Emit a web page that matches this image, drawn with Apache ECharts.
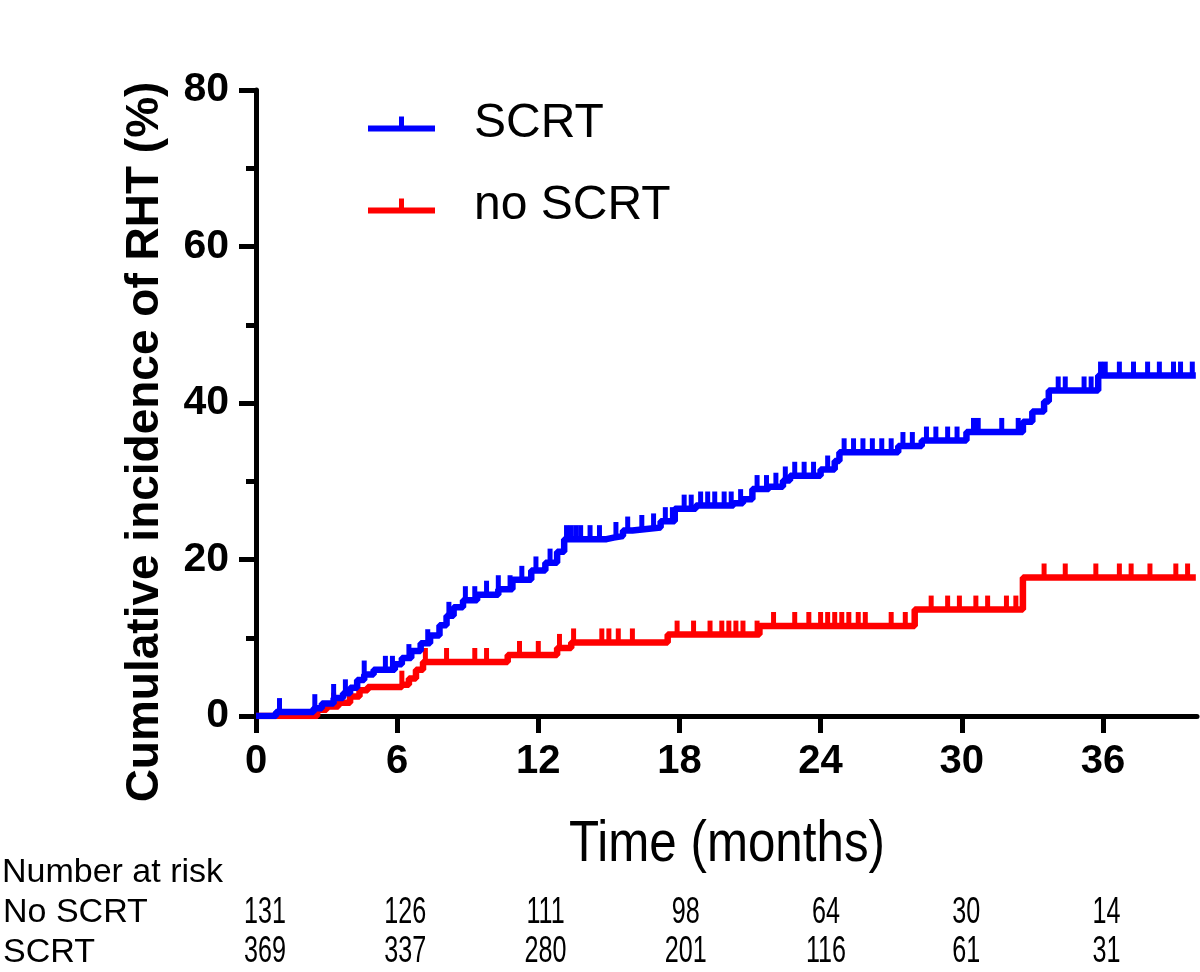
<!DOCTYPE html>
<html>
<head>
<meta charset="utf-8">
<script src="https://cdn.jsdelivr.net/npm/echarts@6/dist/echarts.min.js"></script>
<style>
html, body { margin: 0; padding: 0; background: #fff; }
#main { width: 1200px; height: 972px; }
</style>
</head>
<body>
<div id="main"></div>
<script>
// cumulative incidence steps [month, %]
var scrtSteps = [
	[0,0],[0.85,0.5],[2.45,1.0],[2.8,1.6],[3.3,2.3],[3.7,2.9],[4.0,3.6],[4.3,4.6],[4.6,5.3],[5.0,5.9],
	[5.9,6.6],[6.2,7.4],[6.6,8.3],[7.0,9.3],[7.4,10.3],[7.8,11.6],[8.1,12.8],[8.4,13.9],[8.8,14.8],[9.4,15.5],
	[10.3,16.2],[10.9,17.4],[11.7,18.6],[12.3,19.6],[12.8,21.0],[13.1,22.6],[14.9,22.8],[15.2,23.0],[15.6,23.7],[16.0,23.9],
	[16.6,24.1],[17.2,24.9],[17.8,26.5],[18.7,26.9],[20.3,27.2],[20.7,27.7],[21.1,29.0],[21.8,29.3],[22.4,30.1],[22.7,30.7],
	[24.0,31.5],[24.6,32.6],[24.8,33.7],[27.3,34.5],[28.3,35.2],[30.2,36.3],[32.6,37.6],[33.0,38.9],[33.5,40.2],[33.7,41.6],
	[35.8,43.5],[39.95,43.5]
];
var noScrtSteps = [
	[0,0],[2.6,0.8],[3.0,1.2],[3.5,1.7],[4.0,2.5],[4.4,3.3],[4.75,3.7],[6.2,4.0],[6.5,4.8],[6.8,5.9],
	[7.1,6.9],[10.7,7.8],[12.8,8.7],[13.4,9.4],[17.5,10.4],[21.4,11.5],[28.0,13.6],[32.6,17.7],[39.95,17.7]
];

// censoring times (months)
var scrtCensor = [1.0,2.5,3.3,3.8,4.6,5.5,5.8,6.5,7.3,8.2,8.9,9.3,9.8,10.3,10.8,11.3,11.9,12.5,13.2,13.4,
	13.6,13.8,14.2,14.6,15.3,15.8,16.4,16.9,17.4,17.7,18.2,18.5,18.9,19.2,19.5,19.9,20.2,20.6,21.3,21.7,
	22.1,22.5,22.9,23.3,23.7,24.3,25.0,25.4,25.8,26.2,26.6,27.0,27.5,27.9,28.5,28.9,29.4,29.8,30.5,30.7,
	31.7,32.4,34.1,34.4,35.2,35.5,35.9,36.1,36.7,37.3,37.9,38.4,39.0,39.3,39.8];
var noScrtCensor = [3.3,6.2,7.2,8.1,9.3,9.8,11.2,12.0,12.9,13.5,14.7,15.0,15.4,16.0,17.9,18.6,19.3,19.8,20.1,20.4,
	20.7,21.3,22.0,22.9,23.5,24.0,24.3,24.6,24.9,25.2,25.6,25.9,27.0,27.6,28.7,29.4,29.9,30.6,31.1,31.9,
	32.3,33.5,34.4,35.7,36.7,37.2,38.0,39.1,39.6];

var xTicks = [0,6,12,18,24,30,36];
var riskMonths = [0,6,12,18,24,30,36];
var riskRows = ['No SCRT', 'SCRT'];
var riskNoScrt = [131,126,111,98,64,30,14];
var riskScrt = [369,337,280,201,116,61,31];

var BLUE = '#0000ff', RED = '#ff0000';
var FONT = '"Liberation Sans", Arial, sans-serif';

// value of a step curve at time t
function valueAt(steps, t){
	var v = 0;
	for (var i = 0; i < steps.length; i++) {
		if (steps[i][0] <= t) { v = steps[i][1]; }
	}
	return v;
}
function censorPoints(steps, times){
	var out = [];
	for (var i = 0; i < times.length; i++) {
		out.push([times[i], valueAt(steps, times[i])]);
	}
	return out;
}

var riskData = [];
for (var i = 0; i < riskMonths.length; i++) {
	riskData.push([riskMonths[i], 0, riskNoScrt[i]]);
	riskData.push([riskMonths[i], 1, riskScrt[i]]);
}

var legendIcon = 'path://M0,9H67V15H0Z M31,0H36V9H31Z';

var chart = echarts.init(document.getElementById('main'));
var option = {
	animation: false,
	backgroundColor: '#fff',
	textStyle: { fontFamily: FONT },
	legend: {
		orient: 'vertical',
		left: 368,
		top: 100,
		itemWidth: 67,
		itemHeight: 15,
		itemGap: 34,
		padding: 0,
		textStyle: { fontSize: 48, color: '#000', fontFamily: FONT, padding: [0, 0, 0, 34] },
		data: [
			{ name: 'SCRT', icon: legendIcon, itemStyle: { color: BLUE } },
			{ name: 'no SCRT', icon: legendIcon, itemStyle: { color: RED } }
		]
	},
	grid: [
		{ left: 256, top: 90, right: 3, bottom: 256, containLabel: false },
		{ left: 262, top: 893, width: 965, height: 80, containLabel: false }
	],
	xAxis: [
		{
			type: 'value', gridIndex: 0, min: 0, max: 40, interval: 6,
			splitLine: { show: false },
			axisLine: { lineStyle: { color: '#000', width: 5 } },
			axisTick: { length: 17, lineStyle: { color: '#000', width: 5 }, customValues: xTicks },
			axisLabel: { margin: 26, fontSize: 40, fontWeight: 'bold', color: '#000', customValues: xTicks }
		},
		{
			type: 'value', gridIndex: 1, min: 0, max: 40, show: false
		}
	],
	yAxis: [
		{
			type: 'value', gridIndex: 0, min: 0, max: 80, interval: 20,
			splitLine: { show: false },
			axisLine: { show: true, lineStyle: { color: '#000', width: 5 } },
			axisTick: { show: true, length: 17, lineStyle: { color: '#000', width: 5 } },
			minorTick: { show: true, splitNumber: 2, length: 10, lineStyle: { color: '#000', width: 5 } },
			axisLabel: { margin: 27, fontSize: 41, fontWeight: 'bold', color: '#000' }
		},
		{
			type: 'category', gridIndex: 1, data: riskRows, inverse: true,
			axisLine: { show: false }, axisTick: { show: false }, splitLine: { show: false },
			axisLabel: { interval: 0, margin: 262, align: 'left', fontSize: 34, color: '#000' }
		}
	],
	graphic: [
		{
			type: 'text', x: 145, y: 442, rotation: Math.PI / 2,
			style: { text: 'Cumulative incidence of RHT (%)', fontSize: 46, fontWeight: 'bold', fontFamily: FONT,
				fill: '#000', align: 'center', verticalAlign: 'middle' }
		},
		{
			type: 'text', x: 727, y: 845, scaleX: 0.85,
			style: { text: 'Time (months)', fontSize: 58, fontFamily: FONT, fill: '#000', align: 'center', verticalAlign: 'middle' }
		},
		{
			type: 'text', x: 2, y: 873,
			style: { text: 'Number at risk', fontSize: 34, fontFamily: FONT, fill: '#000', align: 'left', verticalAlign: 'middle' }
		}
	],
	series: [
		{
			name: 'no SCRT', type: 'line', step: 'end', showSymbol: false, z: 2,
			lineStyle: { color: RED, width: 6.5 }, itemStyle: { color: RED },
			data: noScrtSteps
		},
		{
			name: 'no SCRT', type: 'scatter', symbol: 'rect', symbolSize: [5, 14], symbolOffset: [0, -7], z: 2,
			itemStyle: { color: RED, opacity: 1 },
			data: censorPoints(noScrtSteps, noScrtCensor)
		},
		{
			name: 'SCRT', type: 'line', step: 'end', showSymbol: false, z: 3,
			lineStyle: { color: BLUE, width: 6.5 }, itemStyle: { color: BLUE },
			data: scrtSteps
		},
		{
			name: 'SCRT', type: 'scatter', symbol: 'rect', symbolSize: [5, 14], symbolOffset: [0, -7], z: 3,
			itemStyle: { color: BLUE, opacity: 1 },
			data: censorPoints(scrtSteps, scrtCensor)
		},
		{
			name: 'risk', type: 'custom', xAxisIndex: 1, yAxisIndex: 1,
			renderItem: function (params, api) {
				var p = api.coord([api.value(0), api.value(1)]);
				return {
					type: 'text', x: p[0], y: p[1], scaleX: 0.68,
					style: { text: String(api.value(2)), fontSize: 37, fontFamily: FONT, fill: '#000',
						align: 'center', verticalAlign: 'middle' }
				};
			},
			data: riskData
		}
	]
};
chart.setOption(option);
</script>
</body>
</html>
